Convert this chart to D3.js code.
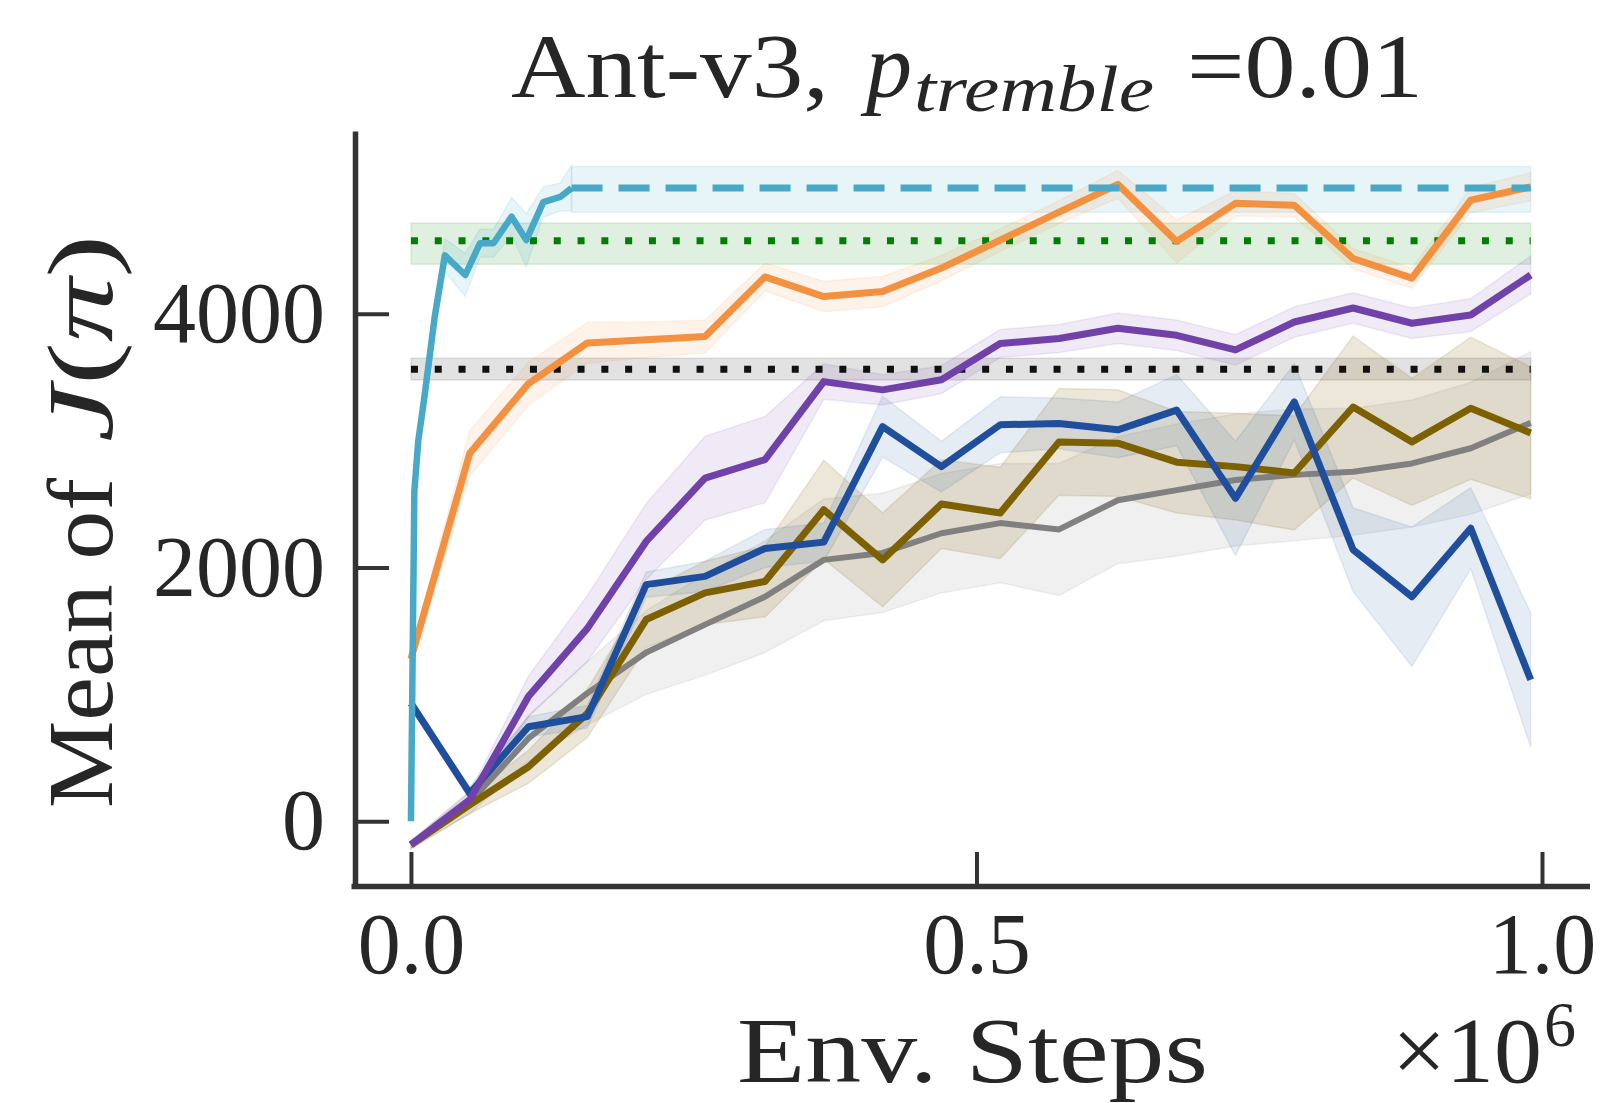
<!DOCTYPE html>
<html><head><meta charset="utf-8">
<script src="https://cdn.jsdelivr.net/npm/d3@7"></script>
<style>body{margin:0;background:#fff}svg{display:block}</style>
</head><body>
<svg id="chart" width="1604" height="1103"></svg>
<script>
// ---- data (x in units of 1e6 env steps) ----
const steps = [0, 0.052, 0.104, 0.156, 0.208, 0.26, 0.313, 0.365, 0.417, 0.469, 0.521, 0.573, 0.625, 0.677, 0.729, 0.781, 0.833, 0.885, 0.937, 0.99];

const orangeMean = [1280, 2900, 3450, 3770, 3795, 3820, 4290, 4135, 4175, 4360, 4580, 4800, 5020, 4570, 4870, 4855, 4435, 4280, 4895, 5000];
const orangeErr  = [60, 180, 170, 160, 140, 130, 110, 120, 120, 100, 90, 90, 110, 170, 100, 90, 80, 80, 100, 110];

const purpleMean = [-185, 170, 985, 1520, 2205, 2705, 2850, 3465, 3400, 3480, 3765, 3805, 3885, 3830, 3715, 3935, 4045, 3925, 3990, 4305];
const purpleErr  = [30, 60, 160, 260, 300, 330, 340, 140, 120, 110, 110, 110, 120, 120, 120, 120, 120, 120, 130, 150];

const blueMean = [930, 220, 745, 825, 1865, 1930, 2150, 2200, 3110, 2795, 3125, 3135, 3085, 3240, 2545, 3305, 2140, 1770, 2310, 1115];
const blueErr  = [30, 50, 80, 90, 100, 120, 150, 150, 240, 200, 220, 200, 220, 280, 450, 300, 330, 550, 320, 530];

const oliveMean = [-185, 130, 430, 850, 1590, 1800, 1890, 2455, 2060, 2500, 2430, 2990, 2980, 2830, 2795, 2745, 3265, 2990, 3255, 3060];
const oliveErr  = [30, 70, 130, 190, 220, 250, 280, 390, 370, 350, 360, 420, 420, 400, 420, 450, 560, 500, 560, 520];

const grayMean = [-185, 150, 655, 1010, 1330, 1550, 1770, 2060, 2115, 2270, 2350, 2300, 2530, 2610, 2690, 2730, 2755, 2820, 2940, 3140];
const grayErr  = [30, 90, 180, 250, 330, 400, 440, 480, 470, 470, 470, 520, 500, 520, 520, 520, 500, 500, 520, 560];

const cyanSteps = [0, 0.003, 0.0065, 0.012, 0.021, 0.030, 0.048, 0.061, 0.073, 0.089, 0.102, 0.117, 0.132, 0.142];
const cyanMean  = [0, 2600, 3000, 3350, 3975, 4460, 4305, 4555, 4555, 4765, 4580, 4880, 4920, 4990];
const cyanErr   = [0, 60, 80, 100, 120, 130, 170, 110, 110, 150, 210, 120, 110, 180];
const cyanFinal = [4990, 4800, 5160];   // level, low, high (dashed)
const greenRef  = [4575, 4390, 4715];   // dotted green
const blackRef  = [3562, 3478, 3650];   // dotted black

const xTicks = [0, 0.5, 1.0];
const xTickLabels = ["0.0", "0.5", "1.0"];
const yTicks = [0, 2000, 4000];
const yTickLabels = ["0", "2000", "4000"];
const xLim = [-0.053, 1.042];
const yLim = [-510, 5440];

// ---- layout ----
const svg = d3.select("#chart");
const FONT = "'Liberation Serif', 'DejaVu Serif', serif";
const INK = "#333333";
const TXT = "#262626";
const x = d3.scaleLinear().domain(xLim).range([351, 1589.5]);
const y = d3.scaleLinear().domain(yLim).range([886, 131]);

const C = {
  orange: "#f39140", purple: "#7042a9", blue: "#1f4e9c", olive: "#7d6100",
  gray: "#808080", cyan: "#47a9c7", green: "#008000", black: "#111111"
};

function pts(xs, m, e) { return xs.map((v, i) => ({x: v, m: m[i], lo: m[i] - e[i], hi: m[i] + e[i]})); }
const area = d3.area().x(d => x(d.x)).y0(d => y(d.lo)).y1(d => y(d.hi));
const line = d3.line().x(d => x(d.x)).y(d => y(d.m));

const series = [
  {key: "gray",   d: pts(steps, grayMean, grayErr),     op: 0.12, w: 6},
  {key: "olive",  d: pts(steps, oliveMean, oliveErr),   op: 0.15, w: 7},
  {key: "blue",   d: pts(steps, blueMean, blueErr),     op: 0.11, w: 7},
  {key: "purple", d: pts(steps, purpleMean, purpleErr), op: 0.11, w: 7},
  {key: "orange", d: pts(steps, orangeMean, orangeErr), op: 0.11, w: 7},
  {key: "cyan",   d: pts(cyanSteps, cyanMean, cyanErr), op: 0.13, w: 6.5}
];
const flat = (lvl, x0, x1) => [{x: x0, m: lvl[0], lo: lvl[1], hi: lvl[2]}, {x: x1, m: lvl[0], lo: lvl[1], hi: lvl[2]}];
const cyanFlat  = flat(cyanFinal, cyanSteps[cyanSteps.length - 1], steps[steps.length - 1]);
const greenFlat = flat(greenRef, steps[0], steps[steps.length - 1]);
const blackFlat = flat(blackRef, steps[0], steps[steps.length - 1]);

const gBands = svg.append("g");
[{d: greenFlat, c: C.green, op: 0.12}, {d: blackFlat, c: C.black, op: 0.12}, {d: cyanFlat, c: C.cyan, op: 0.13}]
  .concat(series.map(s => ({d: s.d, c: C[s.key], op: s.op})))
  .forEach(b => {
    gBands.append("path").attr("d", area(b.d)).attr("fill", b.c).attr("fill-opacity", b.op)
      .attr("stroke", b.c).attr("stroke-opacity", b.op * 0.9).attr("stroke-width", 1.5);
  });

const gLines = svg.append("g").attr("fill", "none");
gLines.append("path").attr("d", line(greenFlat)).attr("stroke", C.green).attr("stroke-width", 7)
  .attr("stroke-dasharray", "7 16.8");
gLines.append("path").attr("d", line(blackFlat)).attr("stroke", C.black).attr("stroke-width", 7)
  .attr("stroke-dasharray", "7 16.8");
series.forEach(s => {
  gLines.append("path").attr("d", line(s.d)).attr("stroke", C[s.key]).attr("stroke-width", s.w)
    .attr("stroke-linejoin", "round");
});
gLines.append("path").attr("d", line(cyanFlat)).attr("stroke", C.cyan).attr("stroke-width", 7)
  .attr("stroke-dasharray", "31 16");

// ---- axes ----
const xAxis = svg.append("g").attr("transform", `translate(0,${y(yLim[0])})`)
  .call(d3.axisBottom(x).tickValues(xTicks).tickFormat((d, i) => xTickLabels[i]).tickSizeInner(-34).tickSizeOuter(0));
const yAxis = svg.append("g").attr("transform", `translate(${x(xLim[0]) + 4},0)`)
  .call(d3.axisLeft(y).tickValues(yTicks).tickFormat((d, i) => yTickLabels[i]).tickSizeInner(-34).tickSizeOuter(0).tickPadding(30));
[xAxis, yAxis].forEach(a => {
  a.select(".domain").attr("stroke", INK).attr("stroke-width", 5.5);
  a.selectAll(".tick line").attr("stroke", INK).attr("stroke-width", 4);
  a.selectAll("text").attr("fill", TXT).style("font-family", FONT).style("font-size", "86px");
});
xAxis.selectAll("text").attr("dy", null).attr("y", 87);

// ---- texts ----
function txt(s, xx, yy, size, opts = {}) {
  const t = svg.append("text").attr("x", xx).attr("y", yy).attr("fill", TXT)
    .style("font-family", FONT).style("font-size", size + "px").text(s);
  if (opts.italic) t.style("font-style", "italic");
  if (opts.len) t.attr("textLength", opts.len).attr("lengthAdjust", "spacingAndGlyphs");
  if (opts.transform) t.attr("transform", opts.transform);
  return t;
}
// title
txt("Ant-v3,", 511, 97, 92, {len: 318});
txt("p", 866, 97, 92, {italic: true});
txt("tremble", 914, 111, 66, {italic: true, len: 240});
txt("=0.01", 1187, 97, 92, {len: 236});
// x label
txt("Env. Steps", 737, 1082, 94, {len: 471});
txt("\u00d710", 1392, 1082, 94, {len: 150});
txt("6", 1544, 1046, 64);
// y label
txt("Mean of", 0, 0, 94, {len: 330, transform: "translate(112,808) rotate(-90)"});
const yl = svg.append("text").attr("transform", "translate(112,442) rotate(-90)").attr("fill", TXT)
  .style("font-family", FONT).style("font-size", "94px").attr("textLength", 207).attr("lengthAdjust", "spacingAndGlyphs");
yl.append("tspan").style("font-style", "italic").text("J");
yl.append("tspan").text("(");
yl.append("tspan").style("font-style", "italic").text("\u03c0");
yl.append("tspan").text(")");
</script>
</body></html>
